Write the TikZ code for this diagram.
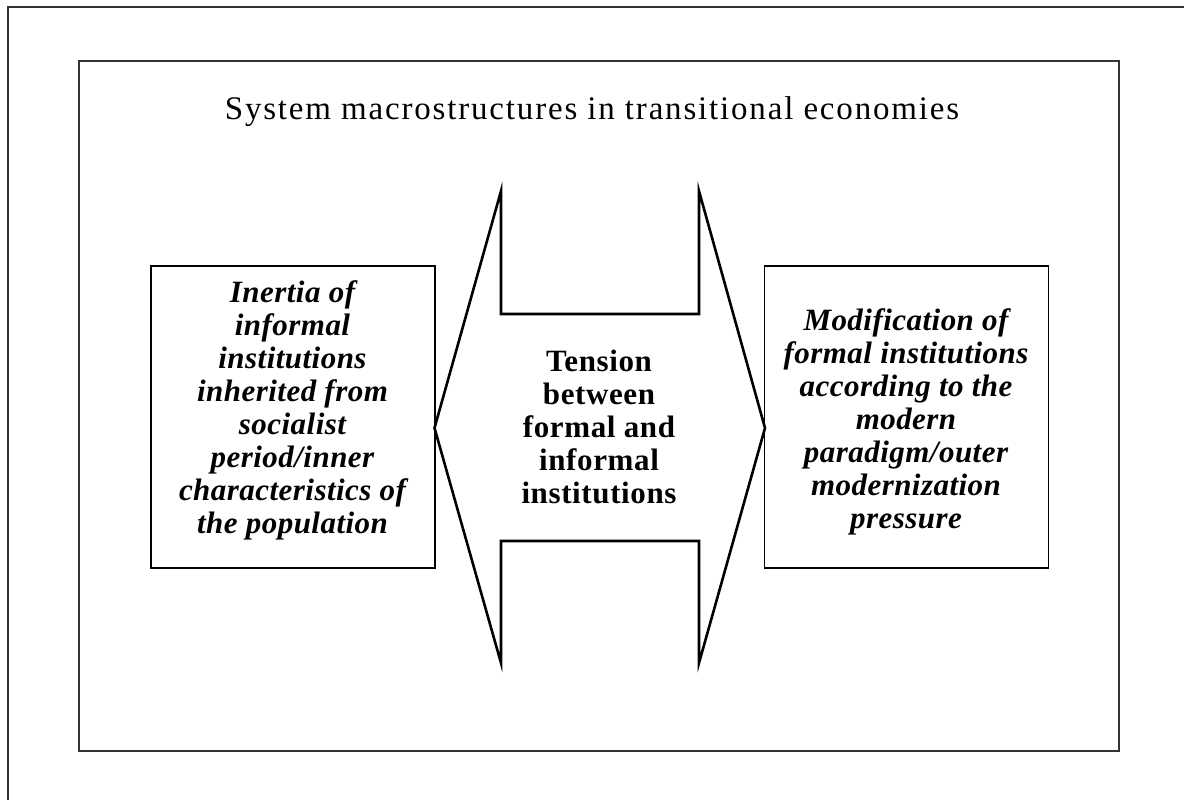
\documentclass[tikz,border=0pt]{standalone}
\usepackage{fontspec}
\setmainfont{Liberation Serif}
\begin{document}
\begin{tikzpicture}[x=1pt,y=-1pt,
  frame/.style={draw=black!80, line width=2pt},
  box/.style={draw=black, line width=1.3pt, minimum width=284pt, minimum height=302pt, inner sep=0pt},
  boxtext/.style={align=center, font=\fontsize{31}{33}\selectfont\bfseries\itshape\addfontfeature{LetterSpace=1.5}, inner sep=0pt},
  midtext/.style={align=center, font=\fontsize{31}{33}\selectfont\bfseries\addfontfeature{LetterSpace=2}, inner sep=0pt},
  titletext/.style={font=\fontsize{33}{36}\selectfont\addfontfeature{LetterSpace=5.5}, inner sep=0pt, anchor=base},
  bigarrow/.style={draw=black, line width=2.6pt, line join=miter}]
\useasboundingbox (0,0) rectangle (1184,800);
\begin{scope}
\clip (0,0) rectangle (1184,800);
\draw[frame] (8,7) rectangle (1220,840);
\end{scope}
\draw[frame] (79,61) rectangle (1119,751);
\node[titletext] (title) at (592,120) {System macrostructures in transitional economies};
\node[box] (lbox) at (293,417) {};
\node[box] (rbox) at (906.5,417) {};
\node[boxtext] (ltext) at (292.5,410) {Inertia of\\informal\\institutions\\inherited from\\socialist\\period/inner\\characteristics of\\the population};
\node[boxtext] (rtext) at (906,422) {Modification of\\formal institutions\\according to the\\modern\\paradigm/outer\\modernization\\pressure};
\node[midtext] (mtext) at (599,427) {Tension\\between\\formal and\\informal\\institutions};
\draw[bigarrow] (434.5,428) -- (501,191) -- (501,314) -- (699,314) -- (699,191) -- (765,428) -- (699,663) -- (699,541) -- (501,541) -- (501,663) -- cycle;
\end{tikzpicture}
\end{document}
